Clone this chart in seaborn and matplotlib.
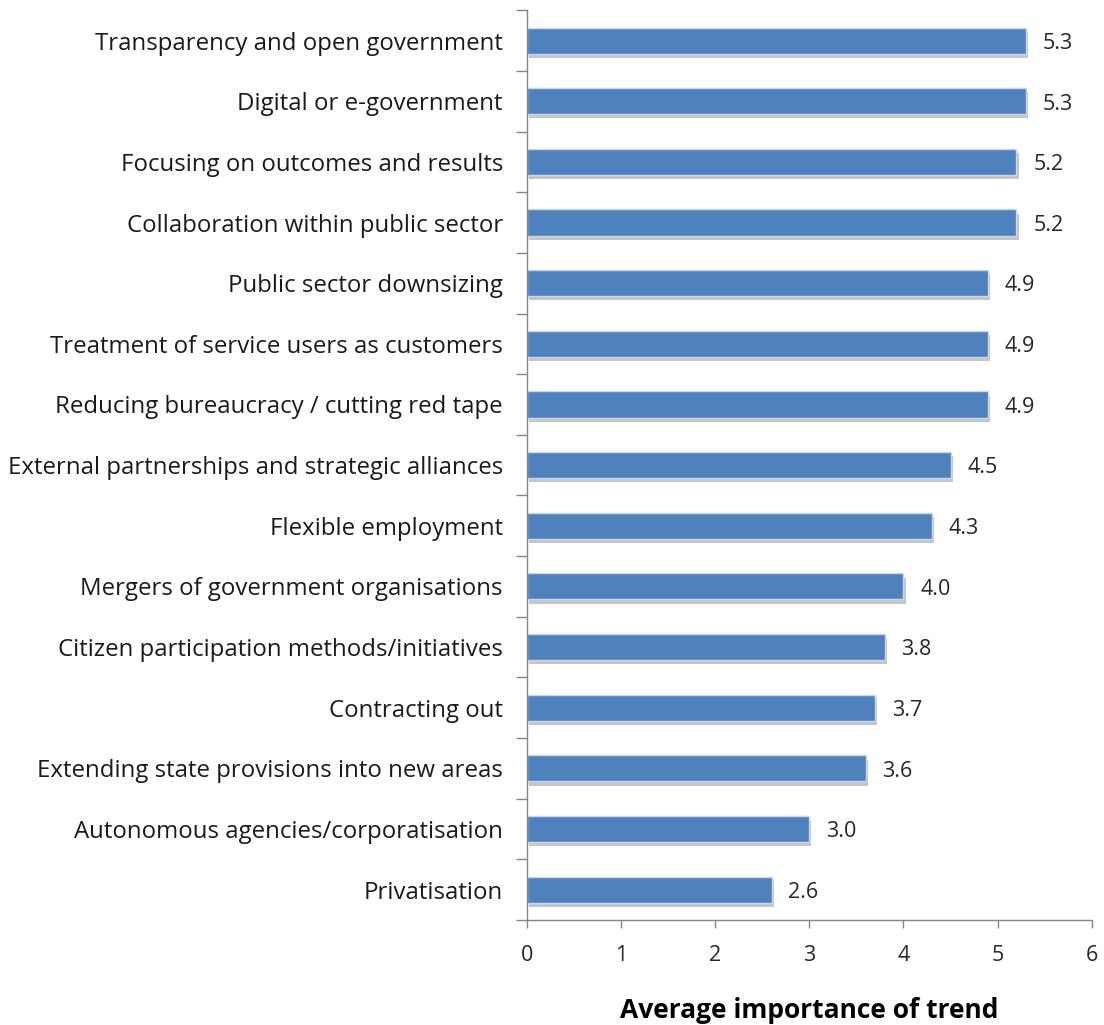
import matplotlib
matplotlib.use("Agg")
import matplotlib.pyplot as plt
import matplotlib.patheffects as pe
import seaborn as sns
import pandas as pd
import numpy as np

categories = [
    "Transparency and open government",
    "Digital or e-government",
    "Focusing on outcomes and results",
    "Collaboration within public sector",
    "Public sector downsizing",
    "Treatment of service users as customers",
    "Reducing bureaucracy / cutting red tape",
    "External partnerships and strategic alliances",
    "Flexible employment",
    "Mergers of government organisations",
    "Citizen participation methods/initiatives",
    "Contracting out",
    "Extending state provisions into new areas",
    "Autonomous agencies/corporatisation",
    "Privatisation",
]
values = [5.3, 5.3, 5.2, 5.2, 4.9, 4.9, 4.9, 4.5, 4.3, 4.0, 3.8, 3.7, 3.6, 3.0, 2.6]
x_ticks = [0, 1, 2, 3, 4, 5, 6]

df = pd.DataFrame({"trend": categories, "importance": values})

sns.set_theme(style="white")
plt.rcParams["font.family"] = ["Open Sans", "DejaVu Sans"]

fig = plt.figure(figsize=(11.04, 10.25), dpi=100)
ax = fig.add_axes([0.477, 0.1024, 0.512, 0.8876])

sns.barplot(data=df, y="trend", x="importance", orient="h", color="#4F81BD",
            saturation=1, width=0.43, edgecolor="#C6D9F1", linewidth=1.0, ax=ax)

for patch in ax.patches:
    patch.set_path_effects([
        pe.SimplePatchShadow(offset=(1.5, -3), shadow_rgbFace="#8c8c8c", alpha=0.5),
        pe.Normal(),
    ])

for i, v in enumerate(values):
    ax.annotate(f"{v:.1f}", xy=(v, i), xytext=(12, -2), textcoords="offset points",
                va="center", ha="left", fontsize=15.5, color="#262626")

ax.set_xlim(0, 6)
ax.set_ylim(len(categories) - 0.5, -0.5)
ax.set_xticks(x_ticks)
ax.set_xticklabels([str(t) for t in x_ticks], fontsize=15.5, color="#262626")
ax.tick_params(axis="x", which="major", direction="out", length=6, width=1,
               color="#868686", pad=12, bottom=True)

ax.set_yticks(range(len(categories)))
ax.set_yticklabels(categories, fontsize=17.3, color="#1a1a1a")
ax.tick_params(axis="y", which="major", length=0, pad=17)
ax.set_yticks(np.arange(-0.5, len(categories), 1.0), minor=True)
ax.tick_params(axis="y", which="minor", direction="out", length=8, width=1,
               color="#868686", left=True)

for side in ("top", "right"):
    ax.spines[side].set_visible(False)
for side in ("left", "bottom"):
    ax.spines[side].set_color("#868686")
    ax.spines[side].set_linewidth(1.0)

ax.set_ylabel("")
ax.set_xlabel("Average importance of trend", fontsize=19, fontweight="bold",
              color="#000000", labelpad=22)

fig.savefig("out.png", dpi=100, facecolor="white")
